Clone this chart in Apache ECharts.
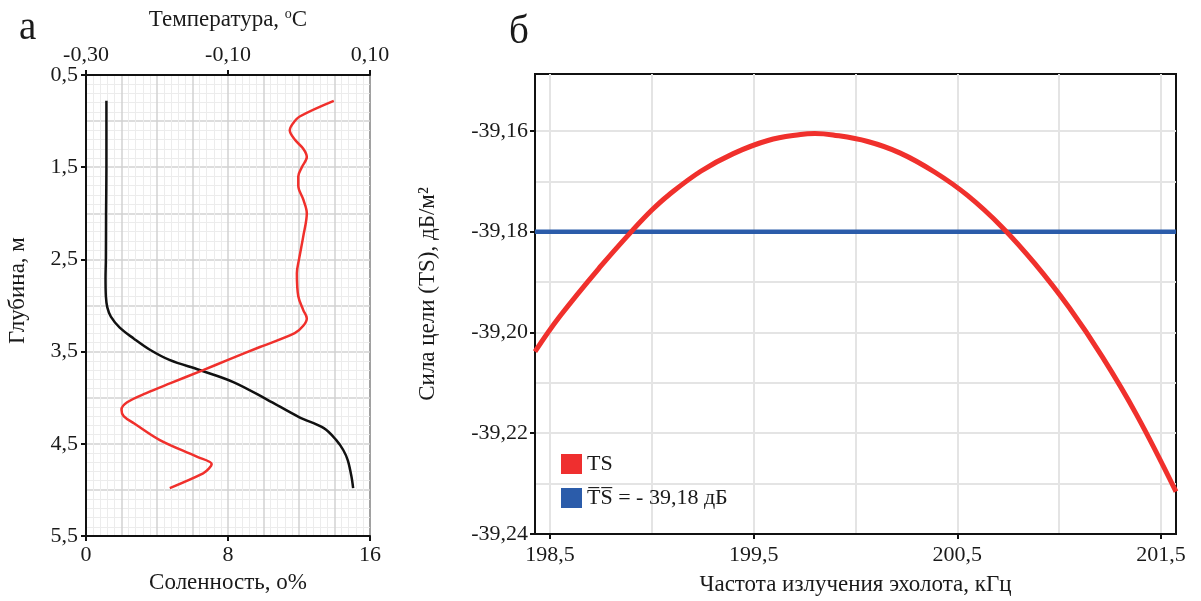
<!DOCTYPE html>
<html>
<head>
<meta charset="utf-8">
<title>Профиль и сила цели</title>
<script src="https://cdn.jsdelivr.net/npm/echarts@6/dist/echarts.min.js"></script>
<style>
    html, body { margin: 0; padding: 0; background: #fff; }
    #main { width: 1201px; height: 601px; }
</style>
</head>
<body>
<div id="main"></div>
<script>
// а - соленость и температура по глубине
var salDepth = [0.78, 1.5, 2.0, 2.5, 2.7, 2.9, 3.02, 3.12, 3.24, 3.36, 3.48, 3.59, 3.70, 3.83, 4.02, 4.21, 4.33, 4.46, 4.57, 4.68, 4.85, 4.98];
var salinity = [1.15, 1.15, 1.13, 1.12, 1.1, 1.12, 1.2, 1.4, 1.9, 2.7, 3.6, 4.7, 6.4, 8.3, 10.2, 12.0, 13.4, 14.1, 14.5, 14.75, 14.95, 15.05];

var tempDepth = [0.78, 0.95, 1.03, 1.10, 1.20, 1.30, 1.39, 1.50, 1.60, 1.70, 1.85, 2.0, 2.25, 2.5, 2.65, 2.9, 3.05, 3.14, 3.22, 3.30, 3.45, 3.59, 3.70, 3.84, 3.95, 4.05, 4.13, 4.20, 4.28, 4.46, 4.64, 4.72, 4.77, 4.82, 4.98];
var temperature = [0.049, 0.001, -0.009, -0.013, -0.006, 0.006, 0.011, 0.004, -0.001, -0.001, 0.006, 0.011, 0.006, 0.0, -0.003, -0.001, 0.006, 0.011, 0.006, -0.006, -0.055, -0.10, -0.135, -0.18, -0.215, -0.242, -0.25, -0.247, -0.232, -0.196, -0.144, -0.123, -0.127, -0.135, -0.182];

var salTicks = [0, 8, 16];
var tempTicks = [-0.3, -0.1, 0.1];
var depthTicks = [0.5, 1.5, 2.5, 3.5, 4.5, 5.5];

// б - сила цели по частоте
var freq = [198.426, 198.55, 198.75, 198.91, 199.0, 199.08, 199.24, 199.40, 199.57, 199.73, 199.80, 199.89, 200.06, 200.22, 200.39, 200.55, 200.72, 200.88, 201.05, 201.21, 201.38, 201.574];
var ts = [-39.2038, -39.1967, -39.1868, -39.1795, -39.1757, -39.1728, -39.1680, -39.1645, -39.1619, -39.1607, -39.1605, -39.1608, -39.1621, -39.1644, -39.1682, -39.1728, -39.1791, -39.1863, -39.1951, -39.2047, -39.2163, -39.2316];
var tsMean = -39.18;
var freqMin = 198.426, freqMax = 201.574;
var tsMin = -39.24, tsMax = -39.1487;

var freqTicks = [198.5, 199.5, 200.5, 201.5];
var freqGrid = [198.5, 199.0, 199.5, 200.0, 200.5, 201.0, 201.5];
var tsTicks = [-39.24, -39.22, -39.20, -39.18, -39.16];
var tsGrid = [-39.24, -39.23, -39.22, -39.21, -39.20, -39.19, -39.18, -39.17, -39.16];

var FONT = 'Liberation Serif';
var TXT = '#1a1a1a';

function zip(a, b) {
    var out = [];
    for (var i = 0; i < a.length; i++) {
        out.push([a[i], b[i]]);
    }
    return out;
}

function comma(digits) {
    return function (v) {
        return (+v).toFixed(digits).replace('.', ',');
    };
}

var labelStyle = { color: TXT, fontFamily: FONT, fontSize: 22 };
var nameStyle = { color: TXT, fontFamily: FONT, fontSize: 23 };
var lineBlack = { show: true, lineStyle: { color: '#111', width: 2 } };
var tickBlack = { color: '#111', width: 2 };

function initChart() {
    var myChart = echarts.init(document.getElementById('main'));
    var option = {
        animation: false,
        title: [
            { text: 'а', left: 14, top: 4, textStyle: { fontFamily: FONT, fontSize: 39, fontWeight: 'normal', color: TXT } },
            { text: 'б', left: 504, top: 8, textStyle: { fontFamily: FONT, fontSize: 39, fontWeight: 'normal', color: TXT } }
        ],
        grid: [
            { left: 86, top: 75, width: 284, height: 461, show: true, borderColor: '#111', borderWidth: 2, backgroundColor: 'transparent' },
            { left: 535, top: 74, width: 641, height: 463, show: true, borderColor: '#111', borderWidth: 2, backgroundColor: 'transparent' }
        ],
        legend: {
            data: ['TS', 'T\u0305S\u0305 = - 39,18 дБ'],
            orient: 'vertical',
            left: 561,
            top: 453,
            padding: 0,
            itemWidth: 21,
            itemHeight: 20,
            itemGap: 12,
            icon: 'rect',
            textStyle: { fontFamily: FONT, fontSize: 22, color: TXT }
        },
        xAxis: [
            // 0: соленость
            {
                type: 'value', gridIndex: 0, position: 'bottom', min: 0, max: 16,
                name: 'Соленность, о%', nameLocation: 'middle', nameGap: 35, nameTextStyle: nameStyle,
                axisLine: lineBlack,
                axisTick: { show: true, length: 5, customValues: salTicks, lineStyle: tickBlack },
                axisLabel: { customValues: salTicks, margin: 8, formatter: comma(0), textStyle: labelStyle },
                splitLine: { show: false }
            },
            // 1: температура
            {
                type: 'value', gridIndex: 0, position: 'top', min: -0.3, max: 0.1,
                name: '{a|Температура, }{s|o}{a|C}', nameLocation: 'middle', nameGap: 42,
                nameTextStyle: {
                    rich: {
                        a: { fontFamily: FONT, fontSize: 23, color: TXT, lineHeight: 26 },
                        s: { fontFamily: FONT, fontSize: 14, color: TXT, verticalAlign: 'top', lineHeight: 26 }
                    }
                },
                axisLine: lineBlack,
                axisTick: { show: true, length: 5, customValues: tempTicks, lineStyle: tickBlack },
                axisLabel: { customValues: tempTicks, margin: 9, formatter: comma(2), textStyle: labelStyle },
                splitLine: { show: false }
            },
            // 2: сетка слева
            {
                type: 'value', gridIndex: 0, position: 'bottom', min: 0, max: 16, interval: 2,
                axisLine: { show: false }, axisTick: { show: false }, axisLabel: { show: false },
                minorTick: { show: false, splitNumber: 5 },
                splitLine: { show: true, lineStyle: { color: '#d2d2d2', width: 1.5 } },
                minorSplitLine: { show: true, lineStyle: { color: '#ececec', width: 1 } }
            },
            // 3: частота
            {
                type: 'value', gridIndex: 1, position: 'bottom', min: freqMin, max: freqMax,
                name: 'Частота излучения эхолота, кГц', nameLocation: 'middle', nameGap: 39, nameTextStyle: nameStyle,
                axisLine: lineBlack,
                axisTick: { show: true, length: 5, customValues: freqTicks, lineStyle: tickBlack },
                axisLabel: { customValues: freqTicks, margin: 10, formatter: comma(1), textStyle: labelStyle },
                splitLine: { show: false }
            },
            // 4: сетка справа
            {
                type: 'value', gridIndex: 1, position: 'bottom', min: freqMin, max: freqMax,
                axisLine: { show: false }, axisLabel: { show: false },
                axisTick: { show: false, customValues: freqGrid },
                splitLine: { show: true, lineStyle: { color: '#e4e4e4', width: 2 } }
            }
        ],
        yAxis: [
            // 0: глубина
            {
                type: 'value', gridIndex: 0, inverse: true, min: 0.5, max: 5.5,
                name: 'Глубина, м', nameLocation: 'middle', nameGap: 57, nameRotate: 90,
                nameTextStyle: { color: TXT, fontFamily: FONT, fontSize: 23, padding: [0, 0, 0, 30] },
                axisLine: lineBlack,
                axisTick: { show: true, length: 5, customValues: depthTicks, lineStyle: tickBlack },
                axisLabel: { customValues: depthTicks, margin: 8, formatter: comma(1), textStyle: labelStyle },
                splitLine: { show: false }
            },
            // 1: сетка глубины
            {
                type: 'value', gridIndex: 0, inverse: true, min: 0.5, max: 5.5, interval: 0.5,
                axisLine: { show: false }, axisTick: { show: false }, axisLabel: { show: false },
                minorTick: { show: false, splitNumber: 5 },
                splitLine: { show: true, lineStyle: { color: '#d2d2d2', width: 1.5 } },
                minorSplitLine: { show: true, lineStyle: { color: '#ececec', width: 1 } }
            },
            // 2: сила цели
            {
                type: 'value', gridIndex: 1, min: tsMin, max: tsMax,
                name: 'Сила цели (TS), дБ/м²', nameLocation: 'middle', nameGap: 96, nameRotate: 90,
                nameTextStyle: { color: TXT, fontFamily: FONT, fontSize: 23, padding: [0, 0, 0, 20] },
                axisLine: lineBlack,
                axisTick: { show: true, length: 5, customValues: tsTicks, lineStyle: tickBlack },
                axisLabel: { customValues: tsTicks, margin: 7, formatter: comma(2), textStyle: labelStyle },
                splitLine: { show: false }
            },
            // 3: сетка справа
            {
                type: 'value', gridIndex: 1, min: tsMin, max: tsMax,
                axisLine: { show: false }, axisLabel: { show: false },
                axisTick: { show: false, customValues: tsGrid },
                splitLine: { show: true, lineStyle: { color: '#e4e4e4', width: 2 } }
            }
        ],
        series: [
            {
                name: 'Соленость', type: 'line', xAxisIndex: 0, yAxisIndex: 0,
                data: zip(salinity, salDepth), showSymbol: false, symbol: 'none', smooth: 0.35,
                lineStyle: { color: '#111', width: 2.5 }, itemStyle: { color: '#111' }
            },
            {
                name: 'Температура', type: 'line', xAxisIndex: 1, yAxisIndex: 0,
                data: zip(temperature, tempDepth), showSymbol: false, symbol: 'none', smooth: 0.35,
                lineStyle: { color: '#f0302c', width: 2.5 }, itemStyle: { color: '#f0302c' }
            },
            {
                name: 'T\u0305S\u0305 = - 39,18 дБ', type: 'line', xAxisIndex: 3, yAxisIndex: 2,
                data: [[freqMin, tsMean], [freqMax, tsMean]], showSymbol: false, symbol: 'none',
                lineStyle: { color: '#2b5caa', width: 4.5 }, itemStyle: { color: '#2b5caa' }
            },
            {
                name: 'TS', type: 'line', xAxisIndex: 3, yAxisIndex: 2,
                data: zip(freq, ts), showSymbol: false, symbol: 'none', smooth: 0.4,
                lineStyle: { color: '#f0302c', width: 5 }, itemStyle: { color: '#ef2f2f' }
            }
        ]
    };
    myChart.setOption(option);
}

initChart();
</script>
</body>
</html>
